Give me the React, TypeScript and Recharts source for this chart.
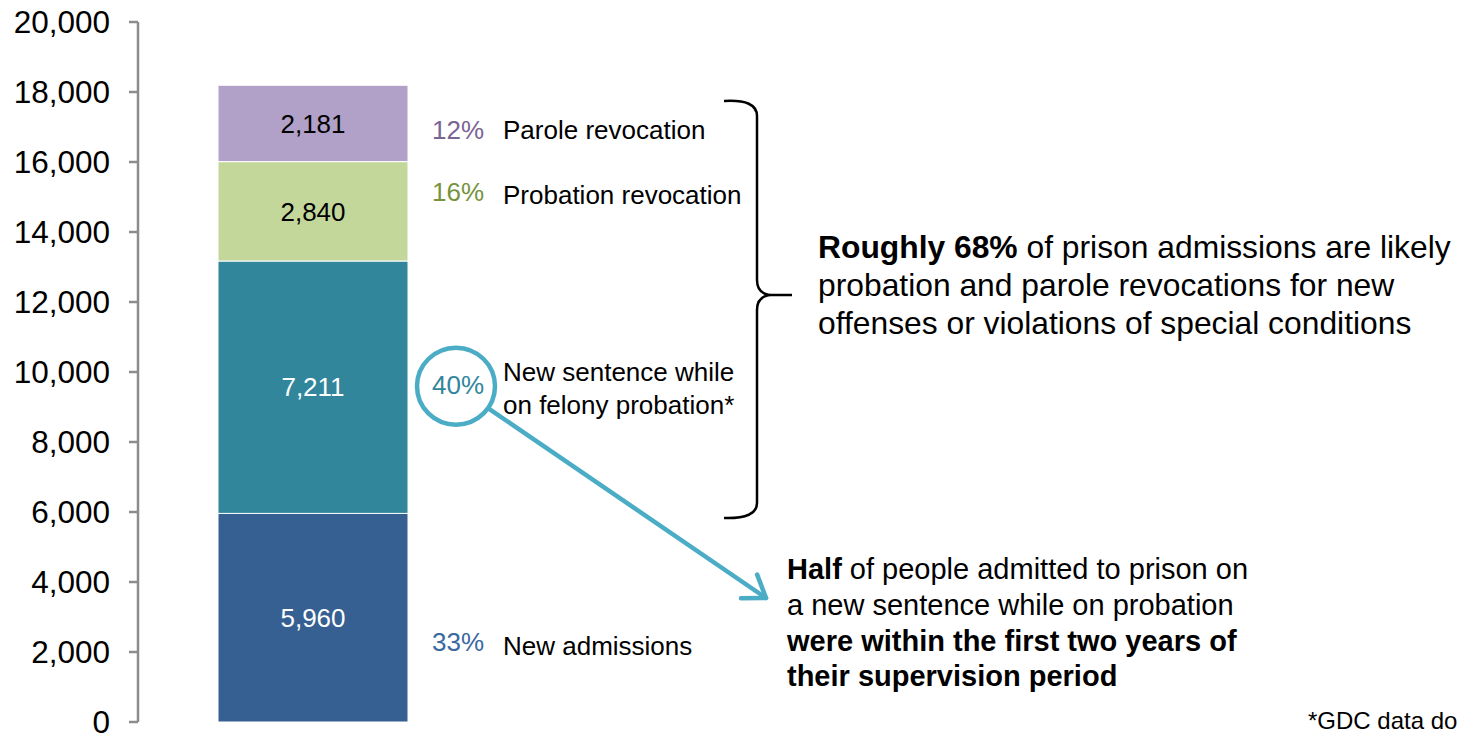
import { Bar, BarChart, Customized, LabelList, XAxis, YAxis } from 'recharts';

const FONT = '"Liberation Sans", Arial, Helvetica, sans-serif';

// one stacked column, bottom to top
const categories = ['Prison admissions'];
const newAdmissions = [5960];
const newSentence = [7211];
const probationRevocation = [2840];
const paroleRevocation = [2181];

const seriesKeys = ['newAdmissions', 'newSentence', 'probationRevocation', 'paroleRevocation'];
const seriesShares = ['33%', '40%', '16%', '12%'];
const seriesLabels = [
  ['New admissions'],
  ['New sentence while', 'on felony probation*'],
  ['Probation revocation'],
  ['Parole revocation'],
];
const yTicks = [0, 2000, 4000, 6000, 8000, 10000, 12000, 14000, 16000, 18000, 20000];

const fills = ['#366092', '#31869B', '#C4D79B', '#B1A0C7'];
const valueColors = ['#ffffff', '#ffffff', '#000000', '#000000'];
const shareColors = ['#3A69A2', '#31869B', '#77933C', '#7B6496'];
// hand-placed offsets of the side labels from each segment's middle
const shareNudge = [33, 7, -10, 16];
const labelNudge = [37, -6, -7, 16];

const data = categories.map((name, i) => ({
  name,
  newAdmissions: newAdmissions[i],
  newSentence: newSentence[i],
  probationRevocation: probationRevocation[i],
  paroleRevocation: paroleRevocation[i],
}));

const ARROW_TIP = { x: 766, y: 598 };

function makeSideLabel(k: number) {
  return (props: any) => {
    const vb = props.viewBox ?? props;
    const right = vb.x + vb.width;
    const cy = vb.y + vb.height / 2;
    const lines = seriesLabels[k];
    let extra = null;
    if (k === 1) {
      const cx = right + 48;
      const ccy = cy - 1;
      const dx = ARROW_TIP.x - cx;
      const dy = ARROW_TIP.y - ccy;
      const len = Math.sqrt(dx * dx + dy * dy);
      const ux = dx / len;
      const uy = dy / len;
      const sx = cx + ux * 40;
      const sy = ccy + uy * 40;
      const wing = (a: number) => {
        const c = Math.cos(a);
        const s = Math.sin(a);
        const bx = -ux * c + uy * s;
        const by = -ux * s - uy * c;
        return `${ARROW_TIP.x + bx * 25},${ARROW_TIP.y + by * 25}`;
      };
      extra = (
        <g stroke="#4BACC6" strokeWidth={4.5} fill="none" strokeLinecap="round">
          <ellipse cx={cx} cy={ccy} rx={39} ry={38.5} />
          <line x1={sx} y1={sy} x2={ARROW_TIP.x} y2={ARROW_TIP.y} />
          <polyline
            points={`${wing(0.61)} ${ARROW_TIP.x},${ARROW_TIP.y} ${wing(-0.61)}`}
            strokeLinejoin="round"
          />
        </g>
      );
    }
    return (
      <g fontFamily={FONT} fontSize={26}>
        {extra}
        <text x={right + 24} y={cy + shareNudge[k]} fill={shareColors[k]}>
          {seriesShares[k]}
        </text>
        {lines.map((t, i) => (
          <text key={t} x={right + 95} y={cy + labelNudge[k] + i * 33} fill="#000">
            {t}
          </text>
        ))}
      </g>
    );
  };
}

function Notes() {
  return (
    <g fontFamily={FONT} fill="#000">
      <path
        d="M724,101 Q757,99 757,116 L757,280 Q757,294 771,295 L792,295 M771,295 Q757,296 757,310 L757,503 Q757,519 724,518"
        stroke="#000"
        strokeWidth={2.5}
        fill="none"
      />
      <g fontSize={31.8}>
        <text x={818} y={258}>
          <tspan fontWeight="bold">Roughly 68%</tspan>
          <tspan> of prison admissions are likely</tspan>
        </text>
        <text x={818} y={296}>probation and parole revocations for new</text>
        <text x={818} y={334}>offenses or violations of special conditions</text>
      </g>
      <g fontSize={29}>
        <text x={787} y={579}>
          <tspan fontWeight="bold">Half</tspan>
          <tspan> of people admitted to prison on</tspan>
        </text>
        <text x={787} y={615}>a new sentence while on probation</text>
        <text x={787} y={651} fontWeight="bold">were within the first two years of</text>
        <text x={787} y={686} fontWeight="bold">their supervision period</text>
      </g>
      <text x={1308} y={729} fontSize={24}>
        *GDC data do
      </text>
    </g>
  );
}

export default function App() {
  return (
    <div style={{ position: 'absolute', left: 0, top: 0, background: '#fff' }}>
      <BarChart
        width={1458}
        height={733}
        data={data}
        margin={{ top: 22, right: 970, bottom: 11, left: 0 }}
      >
        <XAxis dataKey="name" hide />
        <YAxis
          width={138}
          domain={[0, 20000]}
          ticks={yTicks}
          interval={0}
          tickFormatter={(v: number) => v.toLocaleString('en-US')}
          tick={{ fontSize: 31.5, fill: '#000', fontFamily: FONT }}
          axisLine={{ stroke: '#8c8c8c', strokeWidth: 2.5 }}
          tickLine={{ stroke: '#8c8c8c', strokeWidth: 2.5 }}
          tickSize={9}
          tickMargin={19}
        />
        {seriesKeys.map((key, k) => (
          <Bar
            key={key}
            dataKey={key}
            stackId="a"
            barSize={190}
            fill={fills[k]}
            stroke="#ffffff"
            strokeWidth={1}
            isAnimationActive={false}
          >
            <LabelList
              dataKey={key}
              position="center"
              fill={valueColors[k]}
              fontSize={26}
              fontFamily={FONT}
              formatter={(v: any) => Number(v).toLocaleString('en-US')}
            />
            <LabelList dataKey={key} content={makeSideLabel(k)} />
          </Bar>
        ))}
        <Customized component={<Notes />} />
      </BarChart>
    </div>
  );
}
